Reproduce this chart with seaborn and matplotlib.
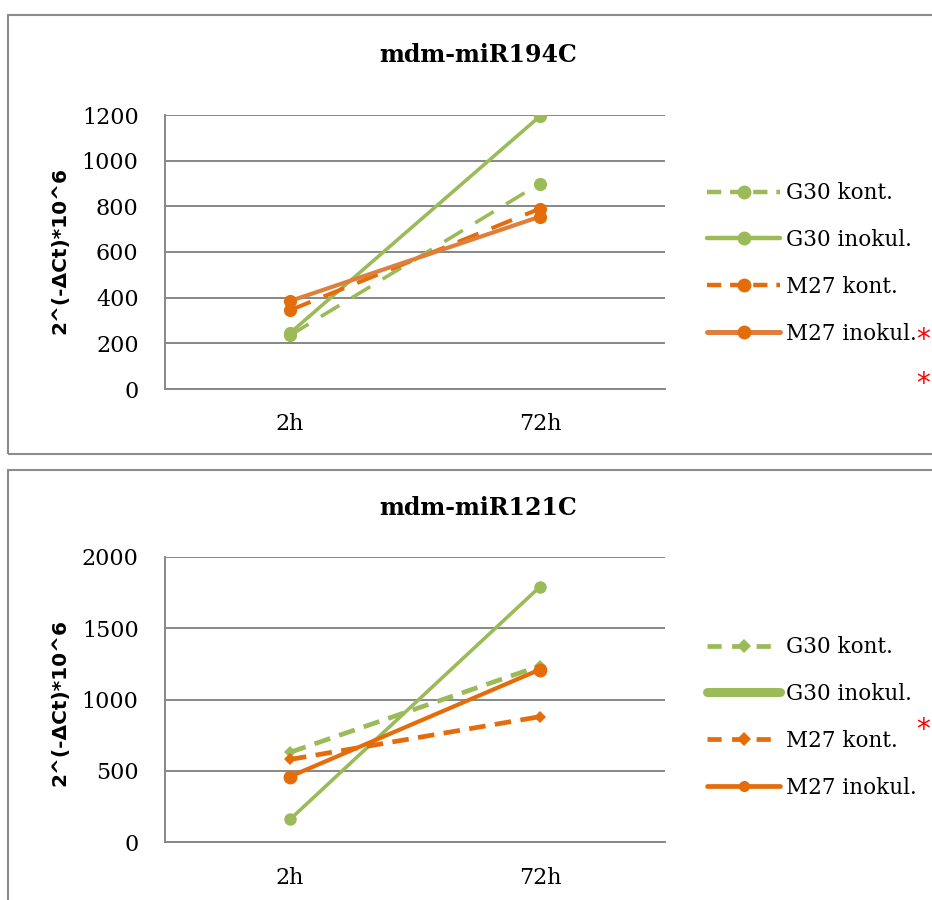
import matplotlib
matplotlib.use("Agg")
import matplotlib.pyplot as plt
from matplotlib.lines import Line2D
from matplotlib.patches import Rectangle
import seaborn as sns
import pandas as pd

# ---------------- data ----------------
times = ["2h", "72h"]
series_names = ["G30 kont.", "G30 inokul.", "M27 kont.", "M27 inokul."]

top_title = "mdm-miR194C"
top_g30_kont = [235, 900]
top_g30_inokul = [245, 1195]
top_m27_kont = [345, 790]
top_m27_inokul = [385, 755]
top_yticks = [0, 200, 400, 600, 800, 1000, 1200]

bot_title = "mdm-miR121C"
bot_g30_kont = [630, 1235]
bot_g30_inokul = [160, 1790]
bot_m27_kont = [580, 880]
bot_m27_inokul = [460, 1210]
bot_yticks = [0, 500, 1000, 1500, 2000]

ylabel = "2^(-\u0394Ct)*10^6"

# ---------------- style ----------------
sns.set_style("white")
plt.rcParams["font.family"] = ["DejaVu Serif"]
plt.rcParams["text.color"] = "black"
plt.rcParams["xtick.color"] = "black"
plt.rcParams["ytick.color"] = "black"

GREEN = "#9BBB59"
ORANGE = "#E46C0A"
ORANGE_L = "#DE803C"
GRID = "#878787"

W, H = 932, 900
fig = plt.figure(figsize=(W / 100, H / 100), dpi=100)


def fx(px):
    return px / W


def fy(py):
    return 1 - py / H


# panel frames
fig.add_artist(Rectangle((fx(8), fy(454)), 1.0, (454 - 15) / H, transform=fig.transFigure,
                         fill=False, ec="#8c8c8c", lw=1.5))
fig.add_artist(Rectangle((fx(8), -0.1), 1.0, fy(470) + 0.1, transform=fig.transFigure,
                         fill=False, ec="#8c8c8c", lw=1.5))


def style_axes(ax, ymax, yticks, xpad):
    ax.set_xlim(-0.5, 1.5)
    ax.set_ylim(0, ymax)
    ax.set_yticks(yticks)
    ax.set_yticklabels([str(t) for t in yticks])
    ax.yaxis.grid(True, color=GRID, lw=1.4)
    ax.xaxis.grid(False)
    ax.set_axisbelow(True)
    for s in ["top", "right"]:
        ax.spines[s].set_visible(False)
    for s in ["left", "bottom"]:
        ax.spines[s].set_color(GRID)
        ax.spines[s].set_linewidth(1.4)
    ax.tick_params(axis="y", length=0, pad=19, labelsize=16, labelcolor="black")
    ax.tick_params(axis="x", length=0, pad=xpad, labelsize=16, labelcolor="black")
    ax.set_xlabel("")
    ax.set_ylabel("")


def draw(ax, vals, **kw):
    df = pd.DataFrame({"t": times, "v": vals})
    sns.lineplot(data=df, x="t", y="v", ax=ax, sort=False, legend=False, **kw)


# ---------------- top panel ----------------
ax1 = fig.add_axes([fx(165), fy(389), 500 / W, 274 / H])
draw(ax1, top_g30_kont, color=GREEN, linewidth=2.6, linestyle=(0, (6, 4)),
     marker="o", markersize=9.5, markeredgewidth=0)
draw(ax1, top_g30_inokul, color=GREEN, linewidth=2.6,
     marker="o", markersize=9.5, markeredgewidth=0)
draw(ax1, top_m27_kont, color=ORANGE, linewidth=2.9, linestyle=(0, (5.5, 3.5)),
     marker="o", markersize=9.5, markeredgewidth=0)
draw(ax1, top_m27_inokul, color=ORANGE_L, linewidth=3.0,
     marker="o", markersize=9.5, markeredgewidth=0, markerfacecolor=ORANGE)
style_axes(ax1, 1200, top_yticks, 17)
fig.text(fx(478), fy(55), top_title, ha="center", va="center", fontsize=17, fontweight="bold")
fig.text(fx(60), fy(250), ylabel, rotation=90, ha="center", va="center",
         fontsize=14.5, fontweight="bold", family="DejaVu Sans")

h_top = [
    Line2D([], [], color=GREEN, lw=3.2, linestyle=(0, (3.2, 2.0)), marker="o", markersize=10, markeredgewidth=0),
    Line2D([], [], color=GREEN, lw=3.2, marker="o", markersize=10, markeredgewidth=0),
    Line2D([], [], color=ORANGE, lw=3.2, linestyle=(0, (3.2, 2.0)), marker="o", markersize=10, markeredgewidth=0),
    Line2D([], [], color=ORANGE_L, lw=3.6, marker="o", markersize=10, markeredgewidth=0, markerfacecolor=ORANGE),
]
fig.legend(h_top, series_names, loc="center left", bbox_to_anchor=(fx(707), fy(263.5)),
           bbox_transform=fig.transFigure, frameon=False, fontsize=15.5, handlelength=3.4,
           handletextpad=0.28, labelspacing=1.16, borderpad=0, borderaxespad=0)

# ---------------- bottom panel ----------------
ax2 = fig.add_axes([fx(165), fy(842.3), 500 / W, 285.6 / H])
draw(ax2, bot_g30_kont, color=GREEN, linewidth=3.4, linestyle=(0, (3.5, 2.0)),
     marker="D", markersize=6, markeredgewidth=0)
draw(ax2, bot_g30_inokul, color=GREEN, linewidth=2.6,
     marker="o", markersize=9, markeredgewidth=0)
draw(ax2, bot_m27_kont, color=ORANGE, linewidth=3.4, linestyle=(0, (3.5, 2.0)),
     marker="D", markersize=6, markeredgewidth=0)
draw(ax2, bot_m27_inokul, color=ORANGE, linewidth=3.0,
     marker="o", markersize=10, markeredgewidth=0)
style_axes(ax2, 2000, bot_yticks, 18)
fig.text(fx(478), fy(508), bot_title, ha="center", va="center", fontsize=17, fontweight="bold")
fig.text(fx(60), fy(702), ylabel, rotation=90, ha="center", va="center",
         fontsize=14.5, fontweight="bold", family="DejaVu Sans")

h_bot = [
    Line2D([], [], color=GREEN, lw=3.4, linestyle=(0, (3.0, 2.2)), marker="D", markersize=7, markeredgewidth=0),
    Line2D([], [], color=GREEN, lw=6.5, solid_capstyle="round"),
    Line2D([], [], color=ORANGE, lw=3.4, linestyle=(0, (3.0, 2.2)), marker="D", markersize=7, markeredgewidth=0),
    Line2D([], [], color=ORANGE, lw=3.4, marker="o", markersize=8, markeredgewidth=0),
]
fig.legend(h_bot, series_names, loc="center left", bbox_to_anchor=(fx(707), fy(717.5)),
           bbox_transform=fig.transFigure, frameon=False, fontsize=15.5, handlelength=3.4,
           handletextpad=0.28, labelspacing=1.16, borderpad=0, borderaxespad=0)

# red significance asterisks at the right edge
for py in (348, 392, 738):
    fig.text(fx(930), fy(py), "*", color="red", fontsize=20, ha="right", va="baseline",
             family="DejaVu Sans")

fig.savefig("out.png", dpi=100)
